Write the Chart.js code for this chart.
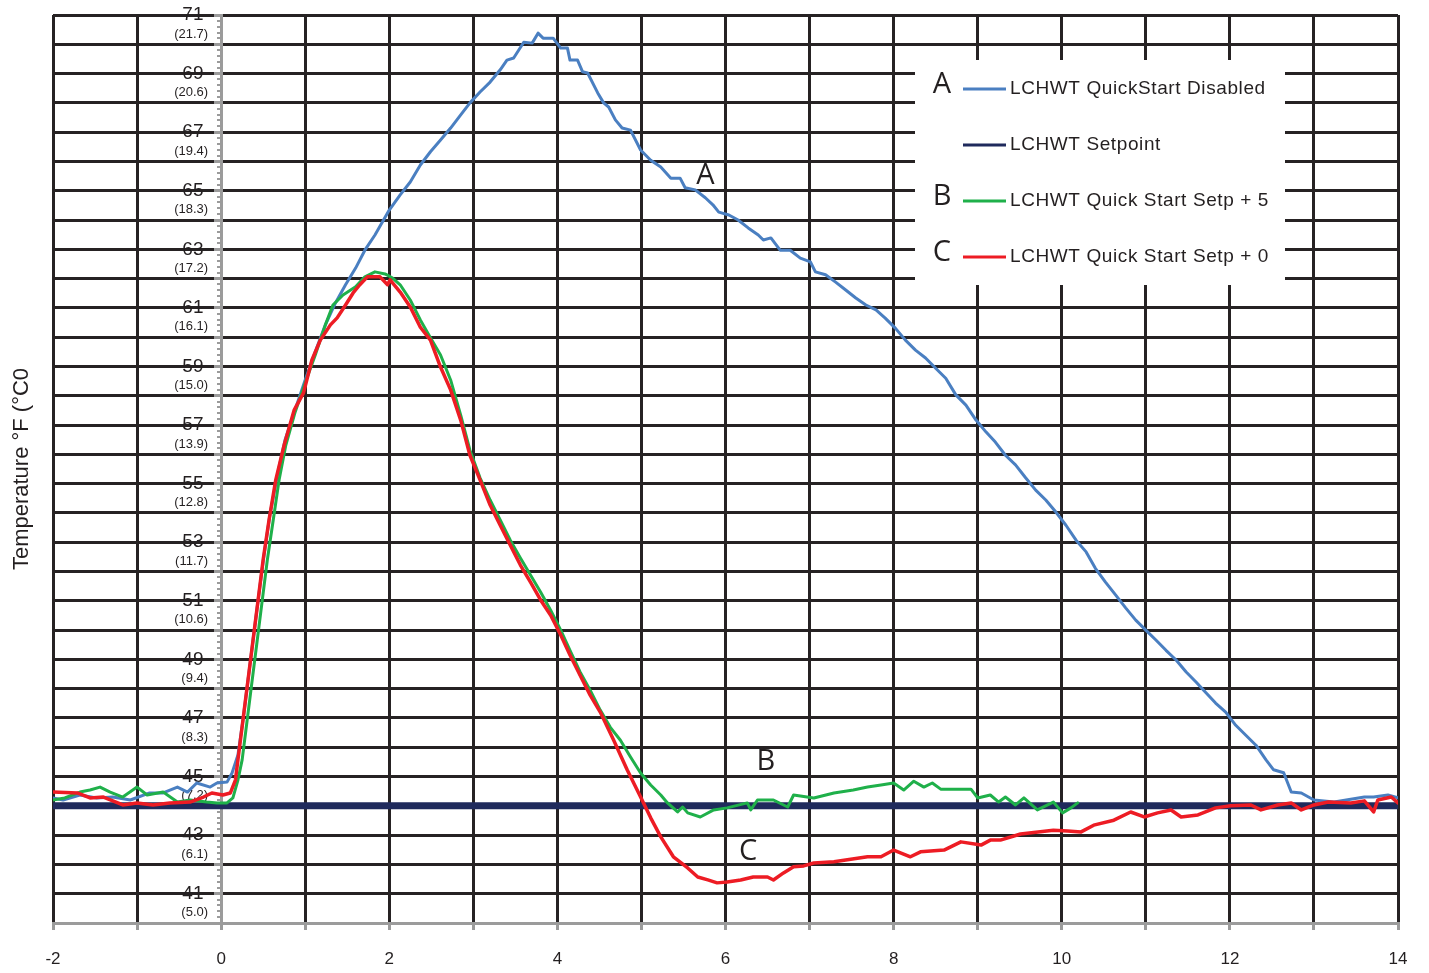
<!DOCTYPE html>
<html><head><meta charset="utf-8">
<script src="https://cdn.jsdelivr.net/npm/chart.js@4.4.1/dist/chart.umd.min.js"></script>
<style>html,body{margin:0;padding:0;background:#fff;overflow:hidden}#wrap{position:relative;width:1429px;height:973px}</style>
</head><body><div id="wrap"><canvas id="c"></canvas></div>
<script>
// Series A: LCHWT QuickStart Disabled  [time, °F]
const seriesA = [[-2.00,44.27],[-1.88,44.20],[-1.68,44.37],[-1.48,44.27],[-1.29,44.30],[-1.08,44.20],[-0.85,44.44],[-0.69,44.44],[-0.52,44.64],[-0.40,44.47],[-0.29,44.78],[-0.13,44.64],[-0.05,44.78],[0.07,44.81],[0.13,45.12],[0.20,45.74],[0.26,46.93],[0.32,48.30],[0.38,49.66],[0.44,51.03],[0.51,52.56],[0.58,53.93],[0.67,55.30],[0.76,56.49],[0.88,57.52],[1.00,58.54],[1.12,59.50],[1.24,60.42],[1.36,61.17],[1.48,61.79],[1.60,62.36],[1.71,62.97],[1.83,63.49],[2.00,64.34],[2.13,64.86],[2.25,65.30],[2.37,65.88],[2.49,66.33],[2.61,66.73],[2.73,67.14],[2.85,67.59],[2.96,68.0],[3.08,68.37],[3.20,68.71],[3.32,69.13],[3.40,69.46],[3.48,69.53],[3.60,70.07],[3.70,70.04],[3.77,70.38],[3.83,70.21],[3.95,70.21],[4.04,69.87],[4.12,69.87],[4.15,69.46],[4.24,69.46],[4.30,69.06],[4.36,69.02],[4.48,68.34],[4.55,68.0],[4.61,67.86],[4.69,67.42],[4.77,67.14],[4.87,67.07],[4.99,66.39],[5.11,66.04],[5.23,65.81],[5.35,65.43],[5.46,65.43],[5.52,65.10],[5.64,65.03],[5.76,64.76],[5.85,64.52],[5.92,64.27],[6.04,64.17],[6.15,64.0],[6.27,63.73],[6.39,63.49],[6.45,63.32],[6.54,63.39],[6.65,62.97],[6.77,62.97],[6.89,62.70],[7.01,62.57],[7.07,62.23],[7.19,62.13],[7.31,61.88],[7.43,61.61],[7.55,61.34],[7.67,61.10],[7.79,60.93],[7.90,60.65],[8.02,60.31],[8.14,59.90],[8.26,59.56],[8.38,59.29],[8.50,58.94],[8.62,58.60],[8.74,58.03],[8.86,57.68],[8.98,57.17],[9.10,56.76],[9.21,56.42],[9.33,55.97],[9.45,55.64],[9.57,55.20],[9.69,54.78],[9.81,54.44],[9.93,54.03],[10.05,53.58],[10.17,53.07],[10.29,52.67],[10.40,52.11],[10.52,51.64],[10.64,51.20],[10.76,50.76],[10.88,50.34],[11.00,50.0],[11.12,49.66],[11.24,49.31],[11.36,48.98],[11.48,48.57],[11.60,48.22],[11.71,47.88],[11.83,47.51],[11.95,47.20],[12.07,46.75],[12.19,46.41],[12.31,46.07],[12.43,45.57],[12.52,45.23],[12.64,45.13],[12.73,44.47],[12.85,44.44],[13.00,44.20],[13.24,44.13],[13.60,44.30],[13.71,44.30],[13.88,44.37],[14.00,44.27]];

// Setpoint
const seriesSet = [[-2,44.0],[14,44.0]];

// Series B: Quick Start Setp + 5
const seriesB = [[-2.00,44.20],[-1.86,44.27],[-1.68,44.47],[-1.56,44.54],[-1.44,44.64],[-1.32,44.47],[-1.17,44.30],[-1.00,44.64],[-0.88,44.37],[-0.69,44.47],[-0.52,44.13],[-0.37,44.20],[-0.17,44.13],[-0.05,44.10],[0.07,44.10],[0.14,44.27],[0.20,44.88],[0.25,45.57],[0.31,46.93],[0.37,48.30],[0.43,49.66],[0.49,51.03],[0.55,52.40],[0.62,53.76],[0.69,55.13],[0.77,56.32],[0.88,57.44],[1.00,58.44],[1.12,59.39],[1.24,60.42],[1.33,61.10],[1.45,61.44],[1.60,61.72],[1.71,62.06],[1.83,62.23],[1.95,62.16],[2.04,62.02],[2.13,61.79],[2.25,61.27],[2.37,60.59],[2.49,59.98],[2.61,59.39],[2.73,58.54],[2.85,57.34],[2.96,56.14],[3.08,55.20],[3.20,54.44],[3.32,53.76],[3.44,53.07],[3.56,52.46],[3.68,51.88],[3.80,51.30],[3.92,50.68],[4.04,50.0],[4.15,49.31],[4.27,48.57],[4.39,47.95],[4.51,47.27],[4.63,46.68],[4.75,46.24],[4.87,45.67],[4.99,45.12],[5.11,44.71],[5.23,44.37],[5.31,44.10],[5.43,43.79],[5.49,43.96],[5.55,43.76],[5.70,43.62],[5.86,43.86],[6.02,43.93],[6.26,44.10],[6.30,43.86],[6.38,44.20],[6.57,44.20],[6.74,43.96],[6.81,44.37],[7.05,44.27],[7.29,44.44],[7.52,44.54],[7.69,44.64],[7.85,44.71],[8.00,44.78],[8.12,44.54],[8.24,44.84],[8.36,44.64],[8.46,44.78],[8.56,44.57],[8.92,44.57],[9.00,44.27],[9.15,44.37],[9.25,44.13],[9.33,44.30],[9.45,44.03],[9.55,44.27],[9.71,43.86],[9.90,44.13],[10.01,43.76],[10.11,43.93],[10.19,44.10]];

// Series C: Quick Start Setp + 0
const seriesC = [[-2.00,44.47],[-1.71,44.44],[-1.56,44.27],[-1.40,44.30],[-1.17,44.03],[-1.00,44.10],[-0.81,44.03],[-0.61,44.10],[-0.37,44.13],[-0.21,44.30],[-0.11,44.44],[0.02,44.37],[0.11,44.44],[0.17,44.88],[0.20,45.57],[0.26,46.93],[0.32,48.30],[0.38,49.66],[0.44,51.03],[0.50,52.40],[0.57,53.76],[0.65,55.13],[0.75,56.32],[0.87,57.52],[0.98,58.10],[1.08,59.22],[1.18,59.90],[1.30,60.42],[1.38,60.66],[1.48,61.10],[1.57,61.51],[1.65,61.79],[1.74,62.06],[1.89,62.06],[1.98,61.79],[2.01,61.96],[2.13,61.54],[2.25,61.03],[2.37,60.34],[2.49,59.90],[2.61,58.98],[2.73,58.20],[2.85,57.17],[2.96,55.97],[3.08,55.13],[3.20,54.27],[3.32,53.58],[3.44,52.90],[3.56,52.22],[3.68,51.64],[3.80,51.03],[3.92,50.51],[4.04,49.83],[4.15,49.15],[4.27,48.46],[4.39,47.78],[4.51,47.20],[4.67,46.24],[4.83,45.23],[4.99,44.30],[5.11,43.59],[5.23,42.94],[5.38,42.26],[5.55,41.88],[5.67,41.57],[5.79,41.47],[5.90,41.37],[6.02,41.40],[6.18,41.47],[6.33,41.57],[6.50,41.57],[6.57,41.47],[6.69,41.71],[6.81,41.92],[6.93,41.95],[7.05,42.05],[7.29,42.09],[7.45,42.16],[7.69,42.26],[7.85,42.26],[8.00,42.49],[8.20,42.26],[8.32,42.43],[8.60,42.49],[8.80,42.77],[9.04,42.66],[9.15,42.83],[9.27,42.83],[9.51,43.04],[9.90,43.17],[10.07,43.14],[10.23,43.11],[10.38,43.34],[10.62,43.51],[10.82,43.79],[10.98,43.62],[11.14,43.76],[11.30,43.86],[11.42,43.62],[11.62,43.69],[11.83,43.93],[12.01,44.0],[12.25,44.03],[12.37,43.86],[12.57,44.03],[12.73,44.10],[12.85,43.86],[13.00,44.03],[13.17,44.13],[13.44,44.10],[13.60,44.17],[13.71,43.79],[13.76,44.20],[13.92,44.30],[14.00,44.10]];

const seriesLabels = ['LCHWT QuickStart Disabled','LCHWT Setpoint','LCHWT Quick Start Setp + 5','LCHWT Quick Start Setp + 0'];
const legendLetters = ['A','','B','C'];
const seriesColors = ['#4a7fc1','#1f2a5c','#1fb04a','#ed1c24'];

// tick labels
const xTickLabels = [-2,0,2,4,6,8,10,12,14];
const yTickF = [41,43,45,47,49,51,53,55,57,59,61,63,65,67,69,71];
const yTickC = ['(5.0)','(6.1)','(7.2)','(8.3)','(9.4)','(10.6)','(11.7)','(12.8)','(13.9)','(15.0)','(16.1)','(17.2)','(18.3)','(19.4)','(20.6)','(21.7)'];
const yTitle = 'Temperature °F (°C0';

// curve annotations
const annotText = ['A','B','C'];
const annotX = [5.76, 6.48, 6.27];
const annotY = [65.50, 45.50, 42.43];

const toPts = s => s.map(p => ({x:p[0], y:p[1]}));
const INK = '#231f20', GRAY = '#9b9b9b', GRID = '#262223';
const noPad = s => { s.paddingTop = 0; s.paddingBottom = 0; };

const overlay = {
  id: 'overlay',
  afterDatasetsDraw(chart) {
    const {ctx, scales:{x, y}} = chart;
    ctx.save();
    ctx.fillStyle = INK;
    ctx.font = '29px "Open Sans"';
    ctx.textAlign = 'center';
    ctx.textBaseline = 'middle';
    annotText.forEach((t,i) => ctx.fillText(t, x.getPixelForValue(annotX[i]), y.getPixelForValue(annotY[i])));
    // legend box
    ctx.fillStyle = '#fff';
    ctx.fillRect(915, 60, 370, 225);
    chart.data.datasets.forEach((ds, i) => {
      const cy = 89 + i * 56;
      if (legendLetters[i]) {
        ctx.fillStyle = INK;
        ctx.font = '29px "Open Sans"';
        ctx.textAlign = 'center';
        ctx.fillText(legendLetters[i], 942, cy - 4);
      }
      ctx.strokeStyle = ds.borderColor;
      ctx.lineWidth = 3;
      ctx.beginPath(); ctx.moveTo(963, cy); ctx.lineTo(1006, cy); ctx.stroke();
      ctx.fillStyle = INK;
      ctx.font = '19px "Liberation Sans"';
      ctx.textAlign = 'left';
      if ('letterSpacing' in ctx) ctx.letterSpacing = '0.6px';
      ctx.fillText(ds.label, 1010, cy);
      if ('letterSpacing' in ctx) ctx.letterSpacing = '0px';
    });
    ctx.restore();
  }
};

new Chart(document.getElementById('c'), {
  type: 'line',
  data: {
    datasets: [
      {label: seriesLabels[0], data: toPts(seriesA), borderColor: seriesColors[0], borderWidth: 3, order: 3},
      {label: seriesLabels[1], data: toPts(seriesSet), borderColor: seriesColors[1], borderWidth: 7, order: 4},
      {label: seriesLabels[2], data: toPts(seriesB), borderColor: seriesColors[2], borderWidth: 3, order: 2},
      {label: seriesLabels[3], data: toPts(seriesC), borderColor: seriesColors[3], borderWidth: 3.5, order: 1}
    ]
  },
  options: {
    responsive: true, maintainAspectRatio: false, animation: false,
    devicePixelRatio: 1,
    layout: {padding: {top: 15, right: 31, bottom: 0, left: 0}},
    elements: {point: {radius: 0}, line: {tension: 0, borderJoinStyle: 'round', borderCapStyle: 'round'}},
    plugins: {legend: {display: false}, tooltip: {enabled: false}},
    scales: {
      x: {
        type: 'linear', position: 'bottom', min: -2, max: 14,
        afterFit: s => { s.height = 50; },
        ticks: {stepSize: 1, autoSkip: false, maxRotation: 0, padding: 19, color: INK,
          font: {family: '"Liberation Sans", Arial', size: 17},
          callback: v => xTickLabels.includes(v) ? String(v) : ''},
        grid: {color: GRID, lineWidth: 3, tickColor: GRAY, tickLength: 7},
        border: {color: GRAY, width: 3}
      },
      yl: {
        type: 'linear', position: 'left', min: 40, max: 71,
        afterFit: s => { s.width = 53; noPad(s); },
        ticks: {display: false}, grid: {display: false}, border: {display: false},
        title: {display: true, text: yTitle, color: INK, padding: {top: 9, bottom: 0},
          font: {family: '"Liberation Sans", Arial', size: 22}}
      },
      ym: {
        type: 'linear', position: {x: 0}, min: 40, max: 71, afterFit: noPad,
        ticks: {display: false, stepSize: 0.2, autoSkip: false},
        grid: {drawOnChartArea: false, tickColor: GRAY, tickLength: 4, lineWidth: 2},
        border: {display: false}
      },
      y: {
        type: 'linear', position: {x: 0}, min: 40, max: 71, afterFit: noPad,
        ticks: {display: false, stepSize: 1, autoSkip: false},
        grid: {color: GRID, lineWidth: 3, tickColor: GRAY, tickLength: 6},
        border: {color: GRAY, width: 3}
      },
      yf: {
        type: 'linear', position: {x: -0.21}, min: 40, max: 71, afterFit: noPad,
        ticks: {stepSize: 1, autoSkip: false, padding: 0, color: INK,
          font: {family: '"Liberation Sans", Arial', size: 19},
          callback: v => yTickF.includes(v) ? String(v) : ''},
        grid: {display: false, drawTicks: false},
        border: {display: false}
      },
      yc: {
        type: 'linear', position: {x: -0.155}, min: 40, max: 71, afterFit: noPad,
        ticks: {stepSize: 1, autoSkip: false, padding: 0, labelOffset: 19, color: INK,
          font: {family: '"Liberation Sans", Arial', size: 13},
          callback: v => { const i = yTickF.indexOf(v); return i >= 0 ? yTickC[i] : ''; }},
        grid: {display: false, drawTicks: false},
        border: {display: false}
      }
    }
  },
  plugins: [overlay]
});
</script>
</body></html>
